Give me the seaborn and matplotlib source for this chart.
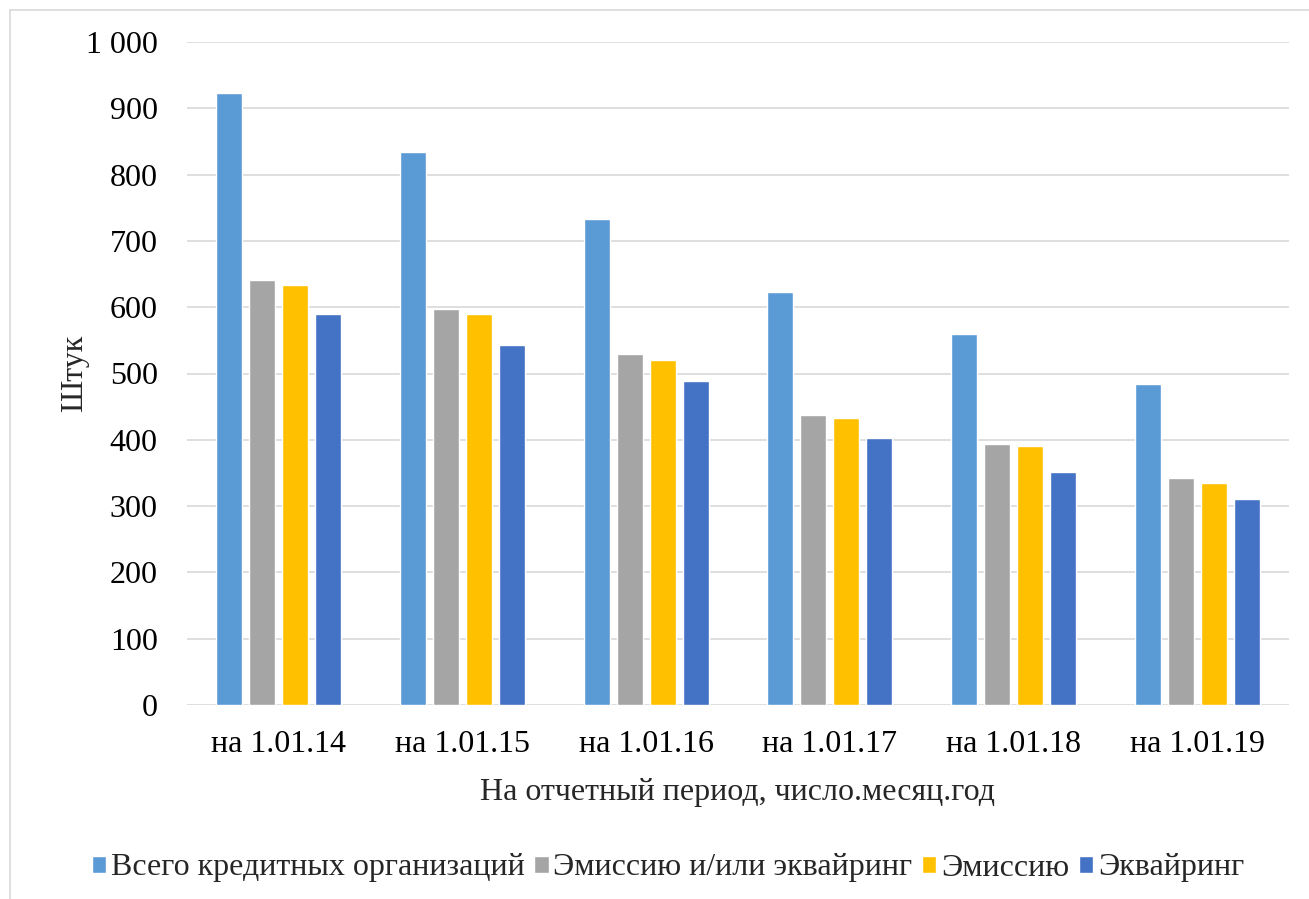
import pandas as pd
import numpy as np
import seaborn as sns
import matplotlib.pyplot as plt
from matplotlib.lines import Line2D
from matplotlib.ticker import FuncFormatter

# данные
periods = ["на 1.01.14", "на 1.01.15", "на 1.01.16", "на 1.01.17", "на 1.01.18", "на 1.01.19"]
series_names = ["Всего кредитных организаций", "Эмиссию и/или эквайринг", "Эмиссию", "Эквайринг"]
total = [923, 834, 733, 623, 560, 484]
emission_or_acq = [641, 597, 529, 438, 394, 342]
emission = [633, 589, 521, 433, 390, 335]
acquiring = [590, 543, 488, 402, 352, 310]
colors = ["#5B9BD5", "#A5A5A5", "#FFC000", "#4472C4"]

df = pd.DataFrame({
    "period": periods * 4,
    "series": np.repeat(series_names, len(periods)),
    "value": total + emission_or_acq + emission + acquiring,
})

sns.set_style("white")
plt.rcParams["font.family"] = ["Liberation Serif", "DejaVu Serif"]

fig = plt.figure(figsize=(13.09, 8.99), dpi=100)
ax = fig.add_axes([187 / 1309, 1 - 705 / 899, (1289 - 187) / 1309, (705 - 42) / 899])

sns.barplot(data=df, x="period", y="value", hue="series", hue_order=series_names,
            palette=colors, width=0.72, gap=0.21, saturation=1, ax=ax, legend=True)

ax.set_ylim(0, 1000)
ax.set_yticks(np.arange(0, 1001, 100))
ax.yaxis.set_major_formatter(FuncFormatter(lambda v, p: f"{int(v):,}".replace(",", " ")))
ax.grid(axis="y", color="#D9D9D9", linewidth=1.2)
ax.set_axisbelow(True)
for s in ax.spines.values():
    s.set_visible(False)
ax.tick_params(axis="both", length=0, labelsize=23, colors="black")
ax.tick_params(axis="y", pad=21)
ax.tick_params(axis="x", pad=18)

ax.set_xlabel("На отчетный период, число.месяц.год", fontsize=23, labelpad=14)
ax.set_ylabel("Штук", fontsize=23, labelpad=-2)

handles, labels = ax.get_legend_handles_labels()
ax.legend_.remove()
fig.legend(handles, labels, loc="center", bbox_to_anchor=(668 / 1309, 1 - 868 / 899),
           ncol=4, frameon=False, fontsize=23, handlelength=0.45, handleheight=0.45,
           handletextpad=0.15, columnspacing=0.3)

# рамка области диаграммы
fig.add_artist(Line2D([10 / 1309, 10 / 1309], [0, 1 - 10 / 899], color="#D9D9D9", lw=1.2))
fig.add_artist(Line2D([10 / 1309, 1], [1 - 10 / 899, 1 - 10 / 899], color="#D9D9D9", lw=1.2))

plt.savefig("out.png", dpi=100)
